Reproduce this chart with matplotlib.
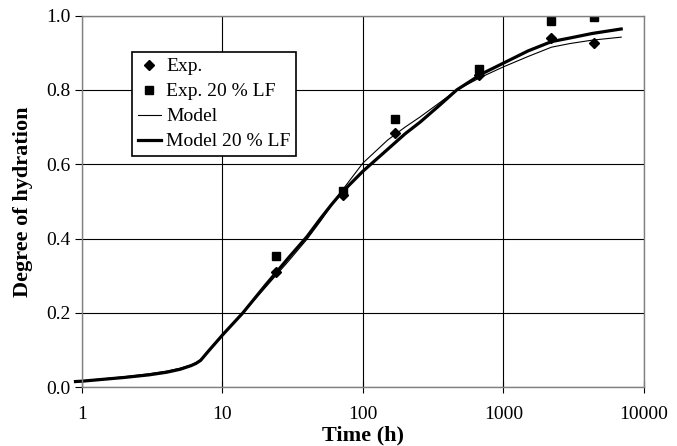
import numpy as np
import matplotlib
matplotlib.use("Agg")
import matplotlib.pyplot as plt

plt.rcParams['font.family'] = ['Liberation Serif', 'DejaVu Serif']

# experimental points
t_exp = [24, 72, 168, 672, 2200, 4400]
exp_plain = [0.309, 0.518, 0.685, 0.840, 0.941, 0.926]
exp_lf = [0.353, 0.528, 0.722, 0.857, 0.985, 0.995]

# model curves
t_model = [0.9, 1, 2, 3, 4, 5, 6, 6.5, 7, 8, 10, 14, 20, 30, 40, 50, 60, 70,
           100, 150, 200, 255, 350, 466, 700, 1000, 1500, 2200, 3000, 4300, 6900]
model_plain = [0.016, 0.017, 0.028, 0.036, 0.043, 0.051, 0.060, 0.066, 0.074, 0.100,
               0.140, 0.200, 0.266, 0.342, 0.398, 0.447, 0.490, 0.526,
               0.603, 0.665, 0.700, 0.727, 0.765, 0.800, 0.835, 0.862, 0.890,
               0.915, 0.925, 0.934, 0.942]
model_lf = [0.015, 0.016, 0.026, 0.033, 0.040, 0.048, 0.058, 0.064, 0.072, 0.098,
            0.140, 0.200, 0.272, 0.351, 0.405, 0.454, 0.492, 0.522,
            0.581, 0.640, 0.682, 0.713, 0.758, 0.800, 0.843, 0.872, 0.905,
            0.930, 0.940, 0.952, 0.964]

fig = plt.figure(figsize=(6.77, 4.46), dpi=100)
ax = fig.add_axes([0.121, 0.132, 0.830, 0.833])

ax.plot(t_exp, exp_plain, linestyle='none', marker='D', ms=5, color='k', label='Exp.')
ax.plot(t_exp, exp_lf, linestyle='none', marker='s', ms=6, color='k', label='Exp. 20 % LF')
ax.plot(t_model, model_plain, color='k', lw=0.8, label='Model', clip_on=False)
ax.plot(t_model, model_lf, color='k', lw=2.3, label='Model 20 % LF', clip_on=False)

ax.set_xscale('log')
ax.set_xlim(1, 10000)
ax.set_ylim(0, 1.0)
ax.set_xticks([1, 10, 100, 1000, 10000])
ax.set_xticklabels(['1', '10', '100', '1000', '10000'])
ax.set_yticks(np.arange(0, 1.01, 0.2))
ax.set_yticklabels([f'{v:.1f}' for v in np.arange(0, 1.01, 0.2)])
ax.minorticks_off()
ax.tick_params(axis='x', direction='inout', length=9, width=0.8, labelsize=14, pad=9)
ax.tick_params(axis='y', direction='out', length=5, width=0.8, labelsize=14, pad=3)
ax.grid(True, color='k', lw=0.8)
ax.set_axisbelow(True)
for s in ax.spines.values():
    s.set_color('#808080')
    s.set_linewidth(1.0)

ax.set_xlabel('Time (h)', fontsize=16, fontweight='bold', labelpad=2)
ax.set_ylabel('Degree of hydration', fontsize=16, fontweight='bold', labelpad=10)

leg = ax.legend(loc='upper left', bbox_to_anchor=(0.089, 0.902), borderaxespad=0,
                fancybox=False, framealpha=1, edgecolor='k', fontsize=14,
                handlelength=1.2, handletextpad=0.25, labelspacing=0.38,
                borderpad=0.3, markerscale=1)
leg.get_frame().set_linewidth(1.2)

fig.savefig('out.png', dpi=100)
